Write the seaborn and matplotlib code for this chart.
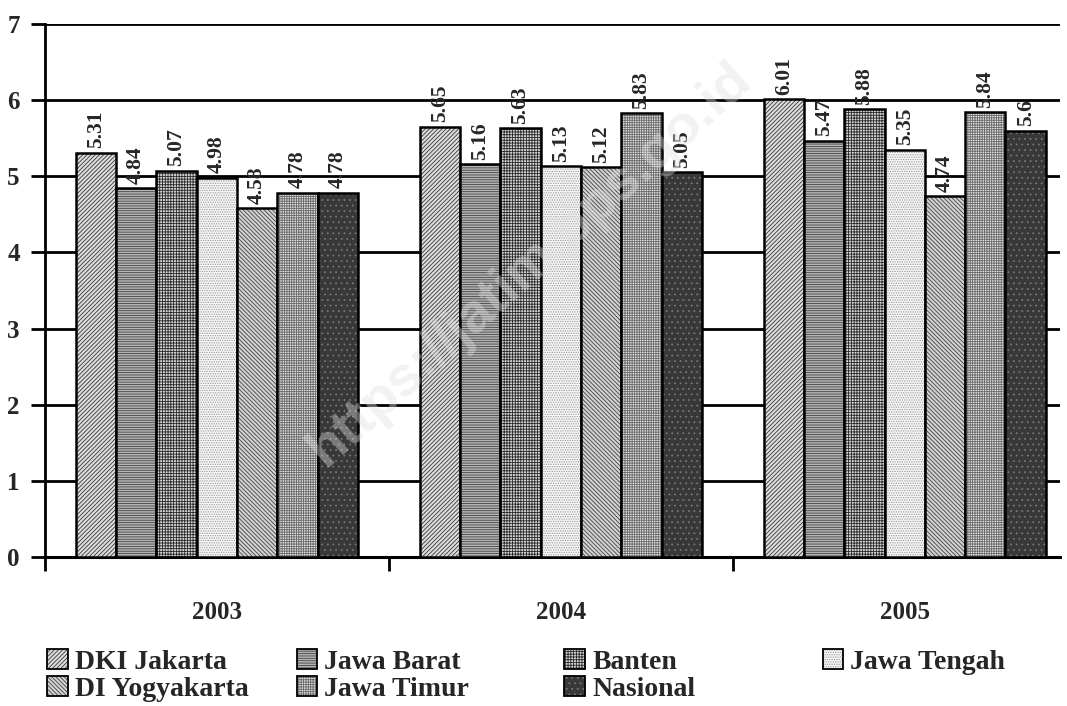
import matplotlib
matplotlib.use("Agg")
import matplotlib.pyplot as plt
from matplotlib.colors import to_rgba
import seaborn as sns
import pandas as pd

years = ["2003", "2004", "2005"]
regions = ["DKI Jakarta", "Jawa Barat", "Banten", "Jawa Tengah",
           "DI Yogyakarta", "Jawa Timur", "Nasional"]
dki = [5.31, 5.65, 6.01]
jabar = [4.84, 5.16, 5.47]
banten = [5.07, 5.63, 5.88]
jateng = [4.98, 5.13, 5.35]
diy = [4.58, 5.12, 4.74]
jatim = [4.78, 5.83, 5.84]
nasional = [4.78, 5.05, 5.60]
label_text = [
    ["5.31", "5.65", "6.01"], ["4.84", "5.16", "5.47"], ["5.07", "5.63", "5.88"],
    ["4.98", "5.13", "5.35"], ["4.58", "5.12", "4.74"], ["4.78", "5.83", "5.84"],
    ["4.78", "5.05", "5.6"],
]

series = [dki, jabar, banten, jateng, diy, jatim, nasional]
rows = []
for r, vals in zip(regions, series):
    for y, v in zip(years, vals):
        rows.append({"year": y, "region": r, "value": v})
df = pd.DataFrame(rows)

sns.set_theme(style="white")
plt.rcParams['font.family'] = ['Liberation Serif', 'DejaVu Serif']
plt.rcParams['font.weight'] = 'bold'
plt.rcParams['hatch.linewidth'] = 0.6

colors = ["#dcdcdc", "#b4b4b4", "#d4d4d4", "#f6f6f6", "#d2d2d2", "#e2e2e2", "#383838"]
hatch_colors = ["#383838", "#444444", "#2a2a2a", "#9a9a9a", "#444444", "#6a6a6a", "#777777"]
hatches = ["////////", "-------", "++++++", ".......", "\\\\\\\\\\\\\\\\", "+++++++", "..."]

fig = plt.figure(figsize=(10.67, 7.06), dpi=100)
ax = fig.add_axes([0.042, 0.211, 0.951, 0.755])

sns.barplot(data=df, x="year", y="value", hue="region", hue_order=regions,
            order=years, palette=colors, width=0.82, ax=ax, legend=False,
            edgecolor="black", linewidth=1.8, saturation=1, zorder=3)

for i, cont in enumerate(ax.containers):
    for j, p in enumerate(cont.patches):
        p.set_hatch(hatches[i])
        p.set_edgecolor("black")
        p._hatch_color = to_rgba(hatch_colors[i])
        p.set_linewidth(1.8)
        p.set_zorder(3)
        ax.text(p.get_x() + p.get_width() / 2, p.get_height() + 0.06,
                label_text[i][j], rotation=90, ha="center", va="bottom",
                fontsize=15.5, fontweight="bold", zorder=4)

ax.set_ylim(0, 7)
ax.set_xlim(-0.5, 2.45)
ax.set_yticks(range(0, 8))
ax.set_yticklabels([str(v) for v in range(0, 8)], fontsize=18, fontweight="bold")
ax.yaxis.grid(True, color="black", linewidth=2, zorder=0)
ax.set_axisbelow(True)
ax.tick_params(axis="y", left=True, length=10, width=2, color="black", pad=8)
ax.set_xticks(range(3))
ax.set_xticklabels(years, fontsize=18, fontweight="bold")
ax.tick_params(axis="x", bottom=False, pad=26)
ax.set_xticks([-0.5, 0.5, 1.5], minor=True)
ax.tick_params(axis="x", which="minor", bottom=True, length=10, width=2, color="black")
ax.set_xlabel("")
ax.set_ylabel("")
for s in ["top", "right"]:
    ax.spines[s].set_visible(False)
ax.spines["left"].set_color("black")
ax.spines["left"].set_linewidth(2)
ax.spines["bottom"].set_color("black")
ax.spines["bottom"].set_linewidth(2.2)

handles = [c.patches[0] for c in ax.containers]
columns = [[0, 4], [1, 5], [2, 6], [3]]
col_x = [0.044, 0.278, 0.529, 0.771]
for cx, idxs in zip(col_x, columns):
    lg = fig.legend([handles[k] for k in idxs], [regions[k] for k in idxs],
                    loc="upper left", bbox_to_anchor=(cx, 0.081), ncol=1,
                    frameon=False, prop={"size": 20, "weight": "bold"},
                    handlelength=0.75, handleheight=0.75, handletextpad=0.25,
                    labelspacing=0.05, borderaxespad=0.0, borderpad=0.0)
    for k, h in zip(idxs, lg.legend_handles):
        h.set_linewidth(1.3)
        h._hatch_color = to_rgba(hatch_colors[k])

fig.text(0.497, 0.625, "https://jatim.bps.go.id", rotation=42, ha="center", va="center",
         fontsize=40, fontweight="bold", color="#e0e0e0", alpha=0.4, zorder=10,
         family=["Liberation Sans", "DejaVu Sans"])

fig.savefig("out.png", dpi=100)
